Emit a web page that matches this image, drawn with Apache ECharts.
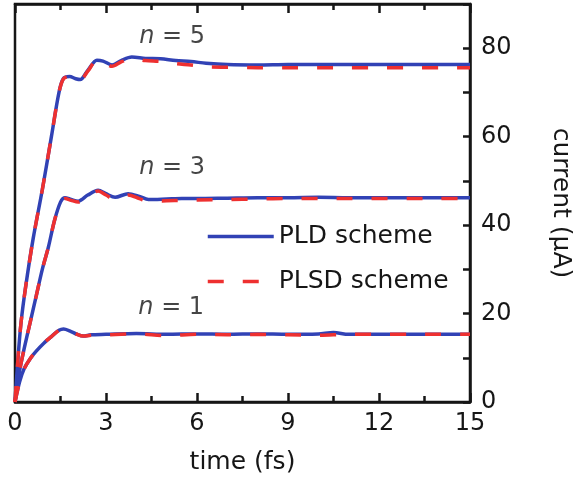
<!DOCTYPE html>
<html>
<head>
<meta charset="utf-8">
<script src="https://cdn.jsdelivr.net/npm/echarts@6/dist/echarts.min.js"></script>
<style>
  html, body { margin: 0; padding: 0; background: #fff; }
  #chart { width: 576px; height: 479px; }
</style>
</head>
<body>
<div id="chart"></div>
<script>
// time (fs), current (uA)
const pld5 = [[0,0],[0.1,10],[0.2,18],[0.35,26],[0.6,37],[0.9,48],[1.2,60],[1.45,70],[1.6,73.2],[1.8,73.6],[2.0,73.1],[2.15,72.9],[2.4,75],[2.7,77.3],[2.9,77.1],[3.2,76.2],[3.5,77.2],[3.85,78],[4.3,77.7],[4.8,77.6],[5.3,77.2],[5.8,77],[6.3,76.6],[7,76.3],[8,76.2],[9,76.3],[10,76.3],[11,76.3],[12,76.3],[13,76.3],[14,76.3],[15,76.3]];
const plsd5 = [[0,0],[0.1,10],[0.2,18],[0.35,26],[0.6,37],[0.9,48],[1.2,60],[1.45,70],[1.6,73.1],[1.8,73.6],[2.0,73],[2.15,72.8],[2.4,74.8],[2.7,77.2],[2.9,76.9],[3.2,75.9],[3.5,76.9],[3.85,77.7],[4.3,77.2],[4.8,77],[5.3,76.5],[5.8,76.2],[6.3,75.8],[7,75.7],[8,75.6],[9,75.6],[10,75.6],[11,75.6],[12,75.6],[13,75.6],[14,75.6],[15,75.6]];
const pld3 = [[0,0],[0.15,7],[0.3,12],[0.5,18],[0.7,24],[0.9,30],[1.1,35],[1.3,41],[1.5,45.2],[1.65,46.2],[1.85,45.8],[2.08,45.4],[2.4,46.8],[2.74,47.9],[3.0,47.1],[3.3,46.3],[3.73,47.1],[4.1,46.5],[4.4,45.8],[5,45.9],[5.5,46],[6,46],[7,46.1],[8,46.2],[9,46.2],[10,46.3],[11,46.2],[12,46.2],[13,46.2],[14,46.2],[15,46.2]];
const plsd3 = [[0,0],[0.15,7],[0.3,12],[0.5,18],[0.7,24],[0.9,30],[1.1,35],[1.3,41],[1.5,45.1],[1.65,46],[1.85,45.6],[2.08,45.2],[2.4,46.6],[2.74,47.7],[3.0,46.8],[3.3,45.8],[3.73,46.8],[4.1,46],[4.4,45.4],[5,45.5],[5.5,45.6],[6,45.7],[7,45.8],[8,45.9],[9,46],[10,46],[11,46],[12,46],[13,46],[14,46],[15,46]];
const pld1 = [[0,0],[0.15,4.5],[0.3,7.5],[0.5,9.8],[0.7,11.5],[0.95,13.3],[1.2,14.8],[1.45,16.2],[1.6,16.5],[1.8,16.1],[2.05,15.3],[2.25,14.9],[2.5,15.2],[3,15.3],[4,15.5],[5,15.3],[6,15.4],[7,15.3],[8,15.4],[9,15.3],[10,15.4],[10.5,15.7],[11,15.3],[12,15.3],[13,15.3],[14,15.3],[15,15.3]];
const plsd1 = [[0,0],[0.15,4.5],[0.3,7.5],[0.5,9.8],[0.7,11.5],[0.95,13.3],[1.2,14.8],[1.45,16.2],[1.6,16.6],[1.8,16.2],[2.05,15.3],[2.25,14.9],[2.5,15.1],[3,15.2],[4,15.4],[5,15],[6,15.3],[7,15.2],[8,15.3],[9,15.2],[10,15.1],[11,15.3],[12,15.3],[13,15.3],[14,15.3],[15,15.3]];
const nLabels = [[5.18, 82.7, '5'], [5.18, 53, '3'], [5.15, 21.4, '1']];
const legendNames = ['PLD scheme', 'PLSD scheme'];

const blue = '#3142b5';
const red = '#ee3030';
const ink = '#161616';
const font = 'DejaVu Sans';

function curve(name, data, color, dashed) {
  return {
    name: name,
    type: 'line',
    data: data,
    symbol: 'none',
    smooth: 0.3,
    lineStyle: { color: color, width: 3.5, type: dashed ? [16, 19] : 'solid' },
    itemStyle: { color: color },
    z: dashed ? 3 : 2
  };
}

const chart = echarts.init(document.getElementById('chart'));
chart.setOption({
  animation: false,
  grid: { left: 15, right: 106, top: 4, bottom: 77, show: true, borderColor: ink, borderWidth: 2.5,
    outerBoundsMode: 'none' },
  legend: {
    data: legendNames,
    orient: 'vertical',
    left: 201,
    top: 219,
    itemWidth: 66,
    itemHeight: 16,
    itemGap: 20,
    itemStyle: { opacity: 0 },
    lineStyle: { width: 3.5 },
    textStyle: { fontFamily: font, fontSize: 25, color: ink }
  },
  xAxis: [
    {
      type: 'value', min: 0, max: 15, interval: 3,
      name: 'time (fs)', nameLocation: 'middle', nameGap: 48,
      nameTextStyle: { fontFamily: font, fontSize: 25, color: ink },
      axisLine: { onZero: false, lineStyle: { color: ink, width: 2.5 } },
      axisTick: { inside: true, length: 9, lineStyle: { color: ink, width: 2.5 } },
      minorTick: { show: true, splitNumber: 2, length: 6, lineStyle: { color: ink, width: 2.5 } },
      axisLabel: { fontFamily: font, fontSize: 24, color: ink, margin: 10 },
      splitLine: { show: false }
    },
    {
      type: 'value', min: 0, max: 15, interval: 3, position: 'top',
      axisLine: { onZero: false, lineStyle: { color: ink, width: 2.5 } },
      axisTick: { inside: true, length: 9, lineStyle: { color: ink, width: 2.5 } },
      minorTick: { show: true, splitNumber: 2, length: 6, lineStyle: { color: ink, width: 2.5 } },
      axisLabel: { show: false },
      splitLine: { show: false }
    }
  ],
  yAxis: {
    type: 'value', min: 0, max: 90, interval: 10, position: 'right',
    name: 'current (μA)', nameLocation: 'middle', nameRotate: -90, nameGap: 78,
    nameTextStyle: { fontFamily: font, fontSize: 25, color: ink },
    axisLine: { show: true, onZero: false, lineStyle: { color: ink, width: 2.5 } },
    // v6 draws these outward with inside: true here
    axisTick: { show: true, inside: true, length: 7, lineStyle: { color: ink, width: 2.5 } },
    axisLabel: { fontFamily: font, fontSize: 24, color: ink, margin: 11,
      formatter: v => (v % 20 === 0 ? String(v) : '') },
    splitLine: { show: false }
  },
  series: [
    curve(legendNames[0], pld5, blue, false),
    curve(legendNames[0], pld3, blue, false),
    curve(legendNames[0], pld1, blue, false),
    curve(legendNames[1], plsd5, red, true),
    curve(legendNames[1], plsd3, red, true),
    curve(legendNames[1], plsd1, red, true),
    {
      type: 'scatter',
      symbolSize: 0,
      silent: true,
      data: nLabels,
      label: {
        show: true,
        position: 'inside',
        formatter: p => '{i|n} = ' + p.data[2],
        fontFamily: font, fontSize: 24, color: ink,
        rich: { i: { fontFamily: font, fontSize: 24, fontStyle: 'italic', color: ink } }
      }
    }
  ]
});
</script>
</body>
</html>
